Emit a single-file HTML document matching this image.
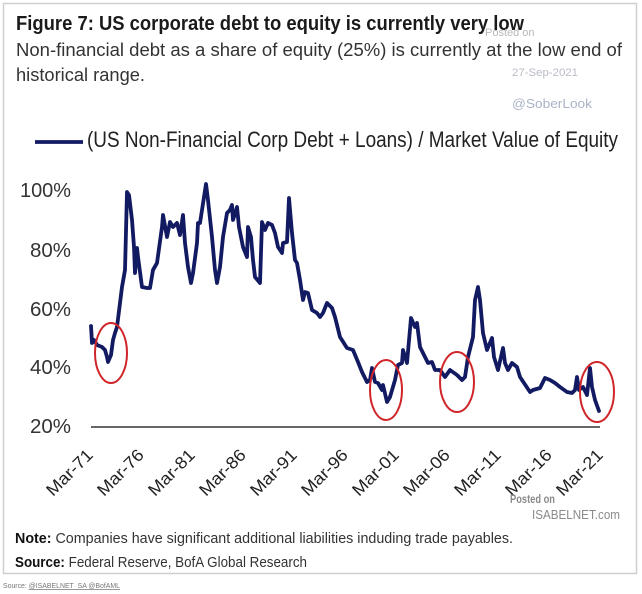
<!DOCTYPE html>
<html>
<head>
<meta charset="utf-8">
<style>
  html,body{margin:0;padding:0;background:#fff;}
  body{width:642px;height:594px;overflow:hidden;}
  svg{display:block;}
  text{font-family:"Liberation Sans", sans-serif;}
</style>
</head>
<body>
<svg width="642" height="594" viewBox="0 0 642 594" xmlns="http://www.w3.org/2000/svg">
  <rect x="0" y="0" width="642" height="594" fill="#fff"/>
  <rect x="3.5" y="3.5" width="633" height="570" fill="#fff" stroke="#cfcfcf" stroke-width="1.5"/>

  <!-- Title & subtitle -->
  <text x="16" y="30" font-size="20" font-weight="bold" fill="#1a1a1a" textLength="508" lengthAdjust="spacingAndGlyphs">Figure 7: US corporate debt to equity is currently very low</text>
  <text x="16" y="56" font-size="18" fill="#333" textLength="606" lengthAdjust="spacingAndGlyphs">Non-financial debt as a share of equity (25%) is currently at the low end of</text>
  <text x="16" y="81" font-size="18" fill="#333" textLength="129" lengthAdjust="spacingAndGlyphs">historical range.</text>

  <!-- Watermarks top -->
  <text x="485" y="36" font-size="11" fill="#b8b8b8">Posted on</text>
  <text x="512" y="76" font-size="11" fill="#b8bcc6" textLength="66" lengthAdjust="spacingAndGlyphs">27-Sep-2021</text>
  <text x="512" y="108" font-size="13" fill="#a9b3c6" textLength="80" lengthAdjust="spacingAndGlyphs">@SoberLook</text>

  <!-- Legend -->
  <line x1="35" y1="142" x2="83" y2="142" stroke="#121a62" stroke-width="3.8"/>
  <text x="87" y="147" font-size="22" fill="#222" textLength="531" lengthAdjust="spacingAndGlyphs">(US Non-Financial Corp Debt + Loans) / Market Value of Equity</text>

  <!-- Y labels -->
  <g font-size="20" fill="#333" text-anchor="end">
    <text x="71" y="197" textLength="51" lengthAdjust="spacingAndGlyphs">100%</text>
    <text x="71" y="257" textLength="41" lengthAdjust="spacingAndGlyphs">80%</text>
    <text x="71" y="316" textLength="41" lengthAdjust="spacingAndGlyphs">60%</text>
    <text x="71" y="374" textLength="41" lengthAdjust="spacingAndGlyphs">40%</text>
    <text x="71" y="433" textLength="41" lengthAdjust="spacingAndGlyphs">20%</text>
  </g>

  <!-- Axis -->
  <line x1="91" y1="427" x2="600" y2="427" stroke="#333" stroke-width="1.6"/>

  <!-- Series -->
  <polyline fill="none" stroke="#121a62" stroke-width="3.8" stroke-linejoin="round" stroke-linecap="round"
    points="91,326 92,343 94,340 97,345 102,347 105,350 107,357 108,362 111,355 113,340 115,333 117,327 122,287 125,270 127,192 129,195 132,220 134,247 135,273 137,248 138,257 142,287 147,288 150,288 153,270 157,263 162,227 163,215 167,237 170,222 173,227 177,223 180,235 183,215 185,243 188,267 191,283 193,273 197,243 198,223 200,223 206,184 208,200 212,237 215,270 217,283 220,267 223,237 227,213 230,210 232,205 233,220 237,207 239,227 243,247 247,257 248,227 251,237 253,260 255,277 260,283 262,222 265,230 268,223 272,225 275,233 278,247 282,253 283,243 287,242 289,198 292,233 295,260 297,263 300,280 303,300 305,292 308,293 312,310 317,313 320,317 323,313 327,303 332,308 335,317 340,337 347,348 353,350 358,362 362,372 367,382 370,380 372,368 375,382 378,383 382,390 383,385 387,402 390,397 395,380 398,365 402,363 403,350 407,363 411,318 415,327 417,323 420,347 423,353 428,363 432,362 435,370 440,370 445,377 450,370 457,375 462,380 465,377 468,357 473,337 475,300 478,287 480,300 483,333 487,350 492,338 494,357 498,370 503,348 505,363 508,370 512,363 517,367 520,377 530,392 533,390 540,388 545,378 550,380 555,383 560,387 567,392 572,393 575,390 577,377 579,390 583,387 587,395 590,368 592,387 595,400 599,411"/>

  <!-- Red circles -->
  <g fill="none" stroke="#d0262a" stroke-width="2">
    <ellipse cx="111" cy="353" rx="16" ry="30"/>
    <ellipse cx="386" cy="390" rx="16" ry="30"/>
    <ellipse cx="457" cy="382" rx="17" ry="30"/>
    <ellipse cx="597" cy="392" rx="17" ry="30"/>
  </g>

  <!-- X labels -->
  <g font-size="17" fill="#222" text-anchor="end">
    <text transform="translate(94,456) rotate(-45)" textLength="58" lengthAdjust="spacingAndGlyphs">Mar-71</text>
    <text transform="translate(145,456) rotate(-45)" textLength="58" lengthAdjust="spacingAndGlyphs">Mar-76</text>
    <text transform="translate(196,456) rotate(-45)" textLength="58" lengthAdjust="spacingAndGlyphs">Mar-81</text>
    <text transform="translate(247,456) rotate(-45)" textLength="58" lengthAdjust="spacingAndGlyphs">Mar-86</text>
    <text transform="translate(298,456) rotate(-45)" textLength="58" lengthAdjust="spacingAndGlyphs">Mar-91</text>
    <text transform="translate(349,456) rotate(-45)" textLength="58" lengthAdjust="spacingAndGlyphs">Mar-96</text>
    <text transform="translate(400,456) rotate(-45)" textLength="58" lengthAdjust="spacingAndGlyphs">Mar-01</text>
    <text transform="translate(451,456) rotate(-45)" textLength="58" lengthAdjust="spacingAndGlyphs">Mar-06</text>
    <text transform="translate(502,456) rotate(-45)" textLength="58" lengthAdjust="spacingAndGlyphs">Mar-11</text>
    <text transform="translate(553,456) rotate(-45)" textLength="58" lengthAdjust="spacingAndGlyphs">Mar-16</text>
    <text transform="translate(604,456) rotate(-45)" textLength="58" lengthAdjust="spacingAndGlyphs">Mar-21</text>
  </g>

  <!-- Watermark bottom -->
  <text x="510" y="503" font-size="12" font-weight="bold" fill="#8a8a8a" textLength="45" lengthAdjust="spacingAndGlyphs">Posted on</text>
  <text x="532" y="519" font-size="13" fill="#8a8a8a" textLength="88" lengthAdjust="spacingAndGlyphs">ISABELNET.com</text>

  <!-- Notes -->
  <text x="15" y="543" font-size="15" fill="#333" textLength="498" lengthAdjust="spacingAndGlyphs"><tspan font-weight="bold" fill="#111">Note:</tspan> Companies  have significant  additional liabilities induding  trade payables.</text>
  <text x="15" y="567" font-size="15" fill="#333" textLength="292" lengthAdjust="spacingAndGlyphs"><tspan font-weight="bold" fill="#111">Source:</tspan>  Federal Reserve, BofA Global Research</text>

  <!-- Bottom source -->
  <text x="3" y="588" font-size="7.5" fill="#777" textLength="117" lengthAdjust="spacingAndGlyphs">Source: <tspan text-decoration="underline">@ISABELNET_SA @BofAML</tspan></text>
</svg>
</body>
</html>
